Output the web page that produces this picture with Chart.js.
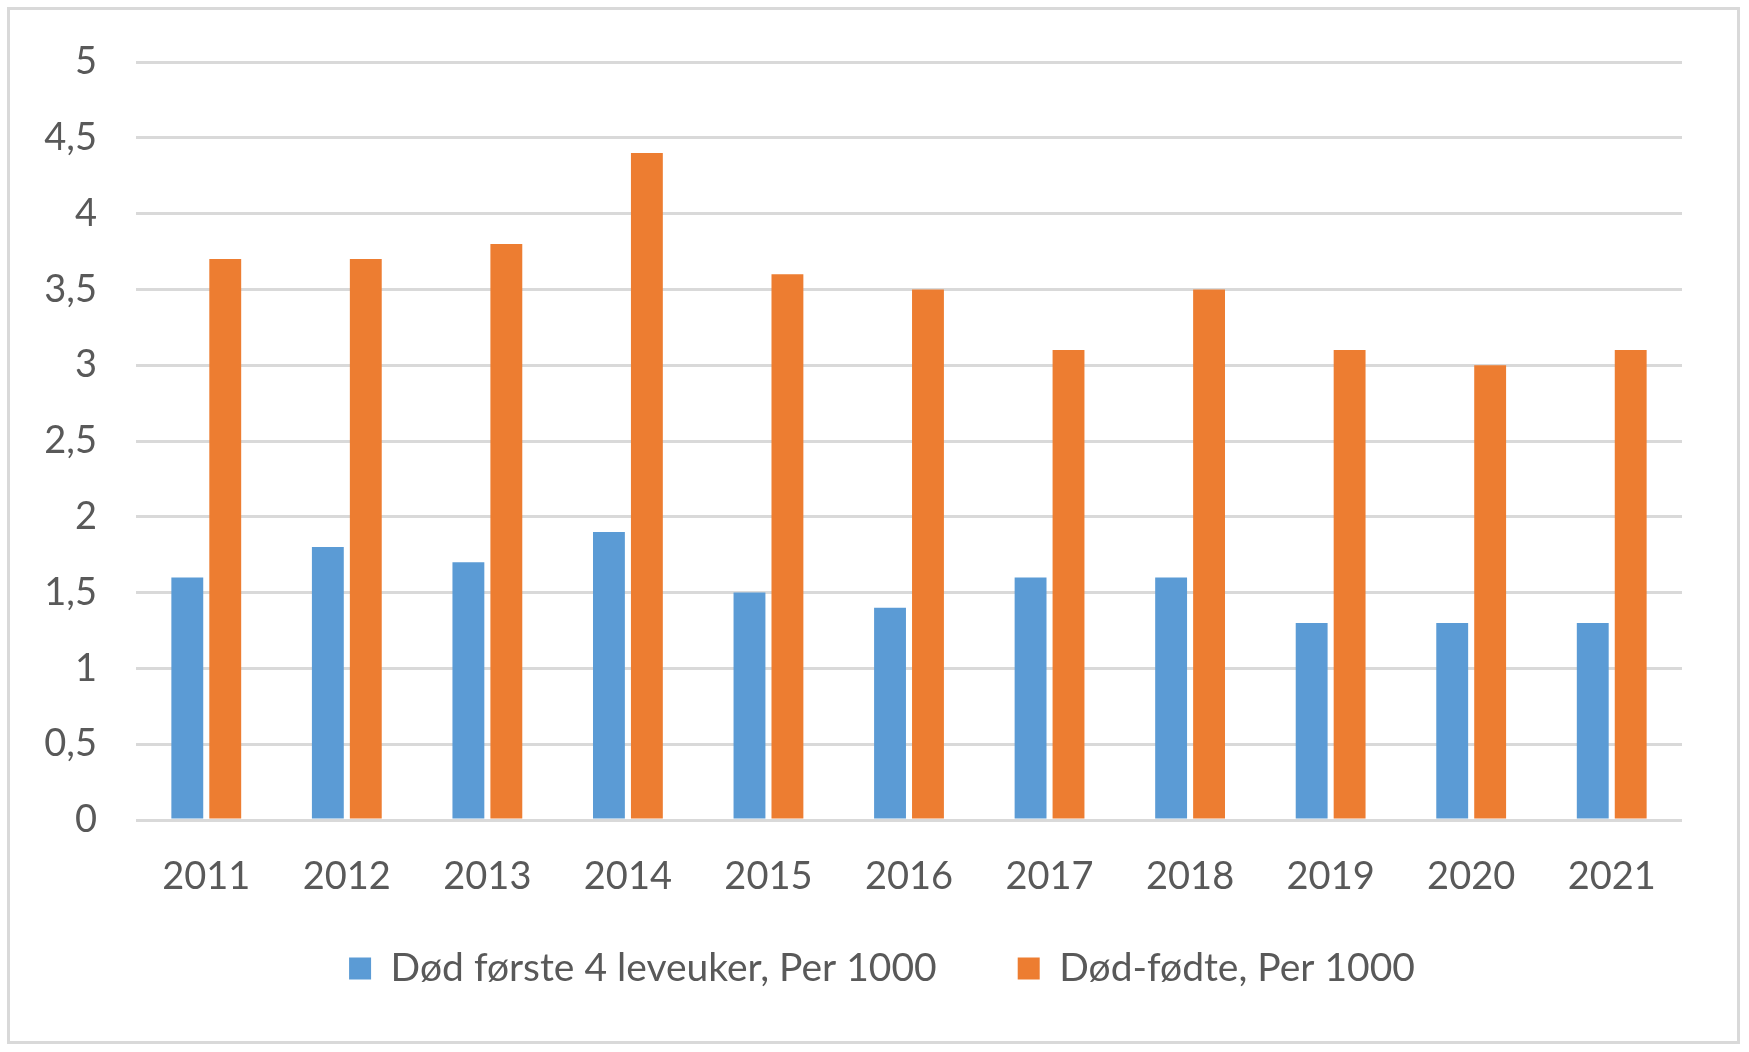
<!DOCTYPE html>
<html>
<head>
<meta charset="utf-8">
<script src="https://cdn.jsdelivr.net/npm/chart.js@4/dist/chart.umd.min.js"></script>
<style>
  html, body { margin: 0; padding: 0; background: #fff; }
  #wrap { position: relative; width: 1749px; height: 1052px; }
  #frame { position: absolute; left: 7px; top: 7px; width: 1733px; height: 1037px; border: 3px solid #d9d9d9; box-sizing: border-box; }
  #chart { position: absolute; left: 0; top: 0; }
</style>
</head>
<body>
<div id="wrap">
  <div id="frame"></div>
  <canvas id="chart" width="1749" height="1052"></canvas>
</div>
<script>
// data
const years = ['2011', '2012', '2013', '2014', '2015', '2016', '2017', '2018', '2019', '2020', '2021'];
const dodForsteUker = [1.6, 1.8, 1.7, 1.9, 1.5, 1.4, 1.6, 1.6, 1.3, 1.3, 1.3];
const dodFodte = [3.7, 3.7, 3.8, 4.4, 3.6, 3.5, 3.1, 3.5, 3.1, 3.0, 3.1];

const textColor = '#595959';
const fontFamily = 'Lato, "Open Sans", sans-serif';

// flytt legenden litt (opp og til høyre) etter layout
const legendShift = {
    id: 'legendShift',
    afterLayout(chart) {
        const lg = chart.legend;
        if (!lg) return;
        lg.top -= 42;
        lg.bottom -= 42;
        lg.left += 31;
        lg.right += 31;
    }
};

const chart = new Chart(document.getElementById('chart'), {
    type: 'bar',
    data: {
        labels: years,
        datasets: [
            {
                label: 'Død første 4 leveuker, Per 1000',
                data: dodForsteUker,
                backgroundColor: '#5b9bd5',
                categoryPercentage: 0.54,
                barPercentage: 0.84
            },
            {
                label: 'Død-fødte, Per 1000',
                data: dodFodte,
                backgroundColor: '#ed7d31',
                categoryPercentage: 0.54,
                barPercentage: 0.84
            }
        ]
    },
    options: {
        responsive: false,
        animation: false,
        layout: {
            padding: { left: 20, right: 67, top: 62, bottom: 12 }
        },
        scales: {
            x: {
                grid: { display: false },
                border: { display: false },
                ticks: {
                    color: textColor,
                    padding: 26,
                    font: { family: fontFamily, size: 38 }
                },
                afterFit: (scale) => { scale.height = 90; }
            },
            y: {
                min: 0,
                max: 5,
                grid: { color: '#d9d9d9', lineWidth: 3, drawTicks: false },
                border: { display: false },
                ticks: {
                    stepSize: 0.5,
                    color: textColor,
                    padding: 39,
                    font: { family: fontFamily, size: 38 },
                    callback: (v) => String(v).replace('.', ',')
                },
                afterFit: (scale) => { scale.width = 116; }
            }
        },
        plugins: {
            legend: {
                position: 'bottom',
                labels: {
                    color: textColor,
                    boxWidth: 22,
                    boxHeight: 22,
                    padding: 81,
                    font: { family: fontFamily, size: 39 }
                }
            },
            tooltip: { enabled: false }
        }
    },
    plugins: [legendShift]
});
</script>
</body>
</html>
